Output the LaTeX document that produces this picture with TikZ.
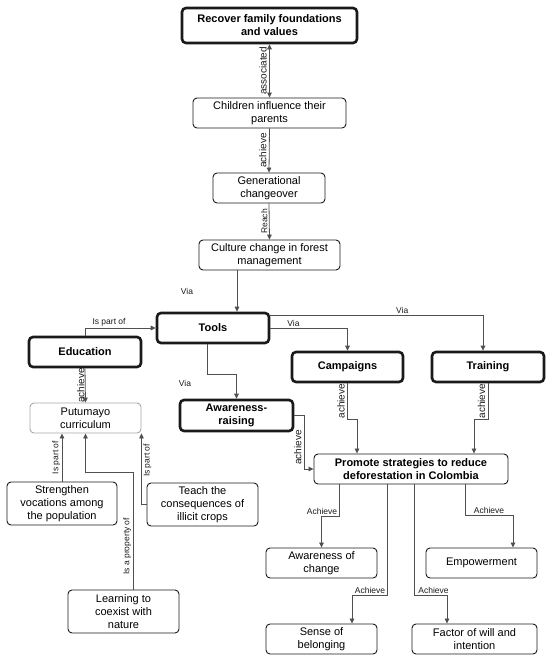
\documentclass[tikz,border=0pt]{standalone}
\usepackage{fontspec}
\setmainfont{Liberation Sans}
\usetikzlibrary{arrows.meta}
\definecolor{ink}{HTML}{1A1A1A}
\definecolor{wire}{HTML}{505050}
\tikzset{hd/.tip={Triangle[length=5pt,width=4.6pt]},
 concept/.style={draw=ink,line width=0.9pt,rounded corners=4pt,align=center,
 font=\fontsize{11}{13}\selectfont,inner sep=1pt},
 keybox/.style={concept,line width=2.6pt,font=\fontsize{11}{13}\selectfont\bfseries},
 link/.style={-hd,draw=wire,line width=0.8pt},
 lbl/.style={font=\fontsize{8.5}{10}\selectfont,text=ink,inner sep=1.5pt},
 svlbl/.style={lbl,rotate=90},
 vlbl/.style={lbl,rotate=90,font=\fontsize{10}{12}\selectfont,inner sep=2.5pt}}
\begin{document}
\begin{tikzpicture}[x=1pt,y=-1pt]
\useasboundingbox (0,0) rectangle (550,662);
% upper chain
\node[keybox,minimum width=175pt,minimum height=35pt] (recover) at (269.5,25.5) {Recover family foundations\\and values};
\node[concept,minimum width=153pt,minimum height=30pt] (children) at (269.5,113) {Children influence their\\parents};
\node[concept,minimum width=112pt,minimum height=30pt] (changeover) at (269,188) {Generational\\changeover};
\node[concept,minimum width=141pt,minimum height=30pt] (culture) at (269.5,255) {Culture change in forest\\management};
% tools and branches
\node[keybox,minimum width=112pt,minimum height=30pt] (tools) at (213,328) {Tools};
\node[keybox,minimum width=112pt,minimum height=30pt] (education) at (85,352) {Education};
\node[concept,draw=gray!70,minimum width=111pt,minimum height=30pt] (curriculum) at (85.5,418) {Putumayo\\curriculum};
\node[keybox,minimum width=113pt,minimum height=31pt] (awareness) at (236.5,415.5) {Awareness-\\raising};
\node[keybox,minimum width=111pt,minimum height=30pt] (campaigns) at (347.5,367) {Campaigns};
\node[keybox,minimum width=112pt,minimum height=30pt] (training) at (488,367) {Training};
\node[concept,minimum width=194pt,minimum height=30pt,font=\fontsize{11}{13}\selectfont\bfseries] (promote) at (411,469) {Promote strategies to reduce\\deforestation in Colombia};
% curriculum parts
\node[concept,minimum width=110pt,minimum height=43pt] (vocations) at (62,503.5) {Strengthen\\vocations among\\the population};
\node[concept,minimum width=111pt,minimum height=43pt] (consequences) at (202.5,504.5) {Teach the\\consequences of\\illicit crops};
\node[concept,minimum width=111pt,minimum height=43pt] (coexist) at (123.5,611.5) {Learning to\\coexist with\\nature};
% results
\node[concept,minimum width=111pt,minimum height=30pt] (change) at (321.5,563) {Awareness of\\change};
\node[concept,minimum width=111pt,minimum height=30pt] (empower) at (481.5,563) {Empowerment};
\node[concept,minimum width=111pt,minimum height=30pt] (belonging) at (321.5,639) {Sense of\\belonging};
\node[concept,minimum width=125pt,minimum height=30pt] (will) at (474.5,639) {Factor of will and\\intention};

\draw[link,hd-hd] (recover.south) -- node[vlbl,above]{associated} (children.north);
\draw[link] (children.south) -- node[vlbl,above]{achieve} (changeover.north);
\draw[link] (changeover.south) -- node[svlbl,above]{Reach} (culture.north);
\draw[link] ([xshift=-32.5pt]culture.south) -- node[lbl,left=42pt]{Via} ([xshift=-32.5pt]culture.south |- tools.north);
\draw[link] (education.north) |- node[lbl,pos=0.67,above]{Is part of} (tools.west);
\draw[link] (education.south) -- node[vlbl,above,inner sep=0.5pt]{achieve} (curriculum.north);
\draw[link] ([xshift=-6pt]tools.south) -- ++(0,30) node[lbl,xshift=-22pt,yshift=-9pt]{Via} -| (awareness.north);
\draw[link] (tools.east) -| node[lbl,pos=0.15,above]{Via} (campaigns.north);
\draw[link] ([yshift=13pt]tools.east) -| node[lbl,pos=0.31,above]{Via} ([xshift=-5pt]training.north);
\draw[link] (campaigns.south) -- ++(0,36) node[vlbl,pos=0.5,above]{achieve} -| ([xshift=-54pt]promote.north);
\draw[link] (training.south) -- ++(0,36) node[vlbl,pos=0.5,above]{achieve} -| ([xshift=63pt]promote.north);
\draw[link] (awareness.east) -- ++(10,0) |- node[vlbl,pos=0.3,above]{achieve} (promote.west);
\draw[link] (vocations.north) -- node[svlbl,above]{Is part of} (vocations.north |- curriculum.south);
\draw[link] (consequences.west) -| node[svlbl,pos=0.81,below]{Is part of} (curriculum.south east);
\draw[link] ([xshift=9.5pt]coexist.north) -- ++(0,-117) node[svlbl,pos=0.37,above]{Is a property of} -| (curriculum.south);
\draw[link] ([xshift=-72pt]promote.south) -- ++(0,32) node[lbl,above left]{Achieve} -| (change.north);
\draw[link] ([xshift=-24pt]promote.south) -- ++(0,111) node[lbl,above left]{Achieve} -| ([xshift=30.5pt]belonging.north);
\draw[link] ([xshift=3pt]promote.south) -- ++(0,111) node[lbl,above right,xshift=2.5pt]{Achieve} -| ([xshift=-27.5pt]will.north);
\draw[link] ([xshift=54pt]promote.south) -- ++(0,31) node[lbl,above right,xshift=7pt]{Achieve} -| ([xshift=31.5pt]empower.north);
\end{tikzpicture}
\end{document}
